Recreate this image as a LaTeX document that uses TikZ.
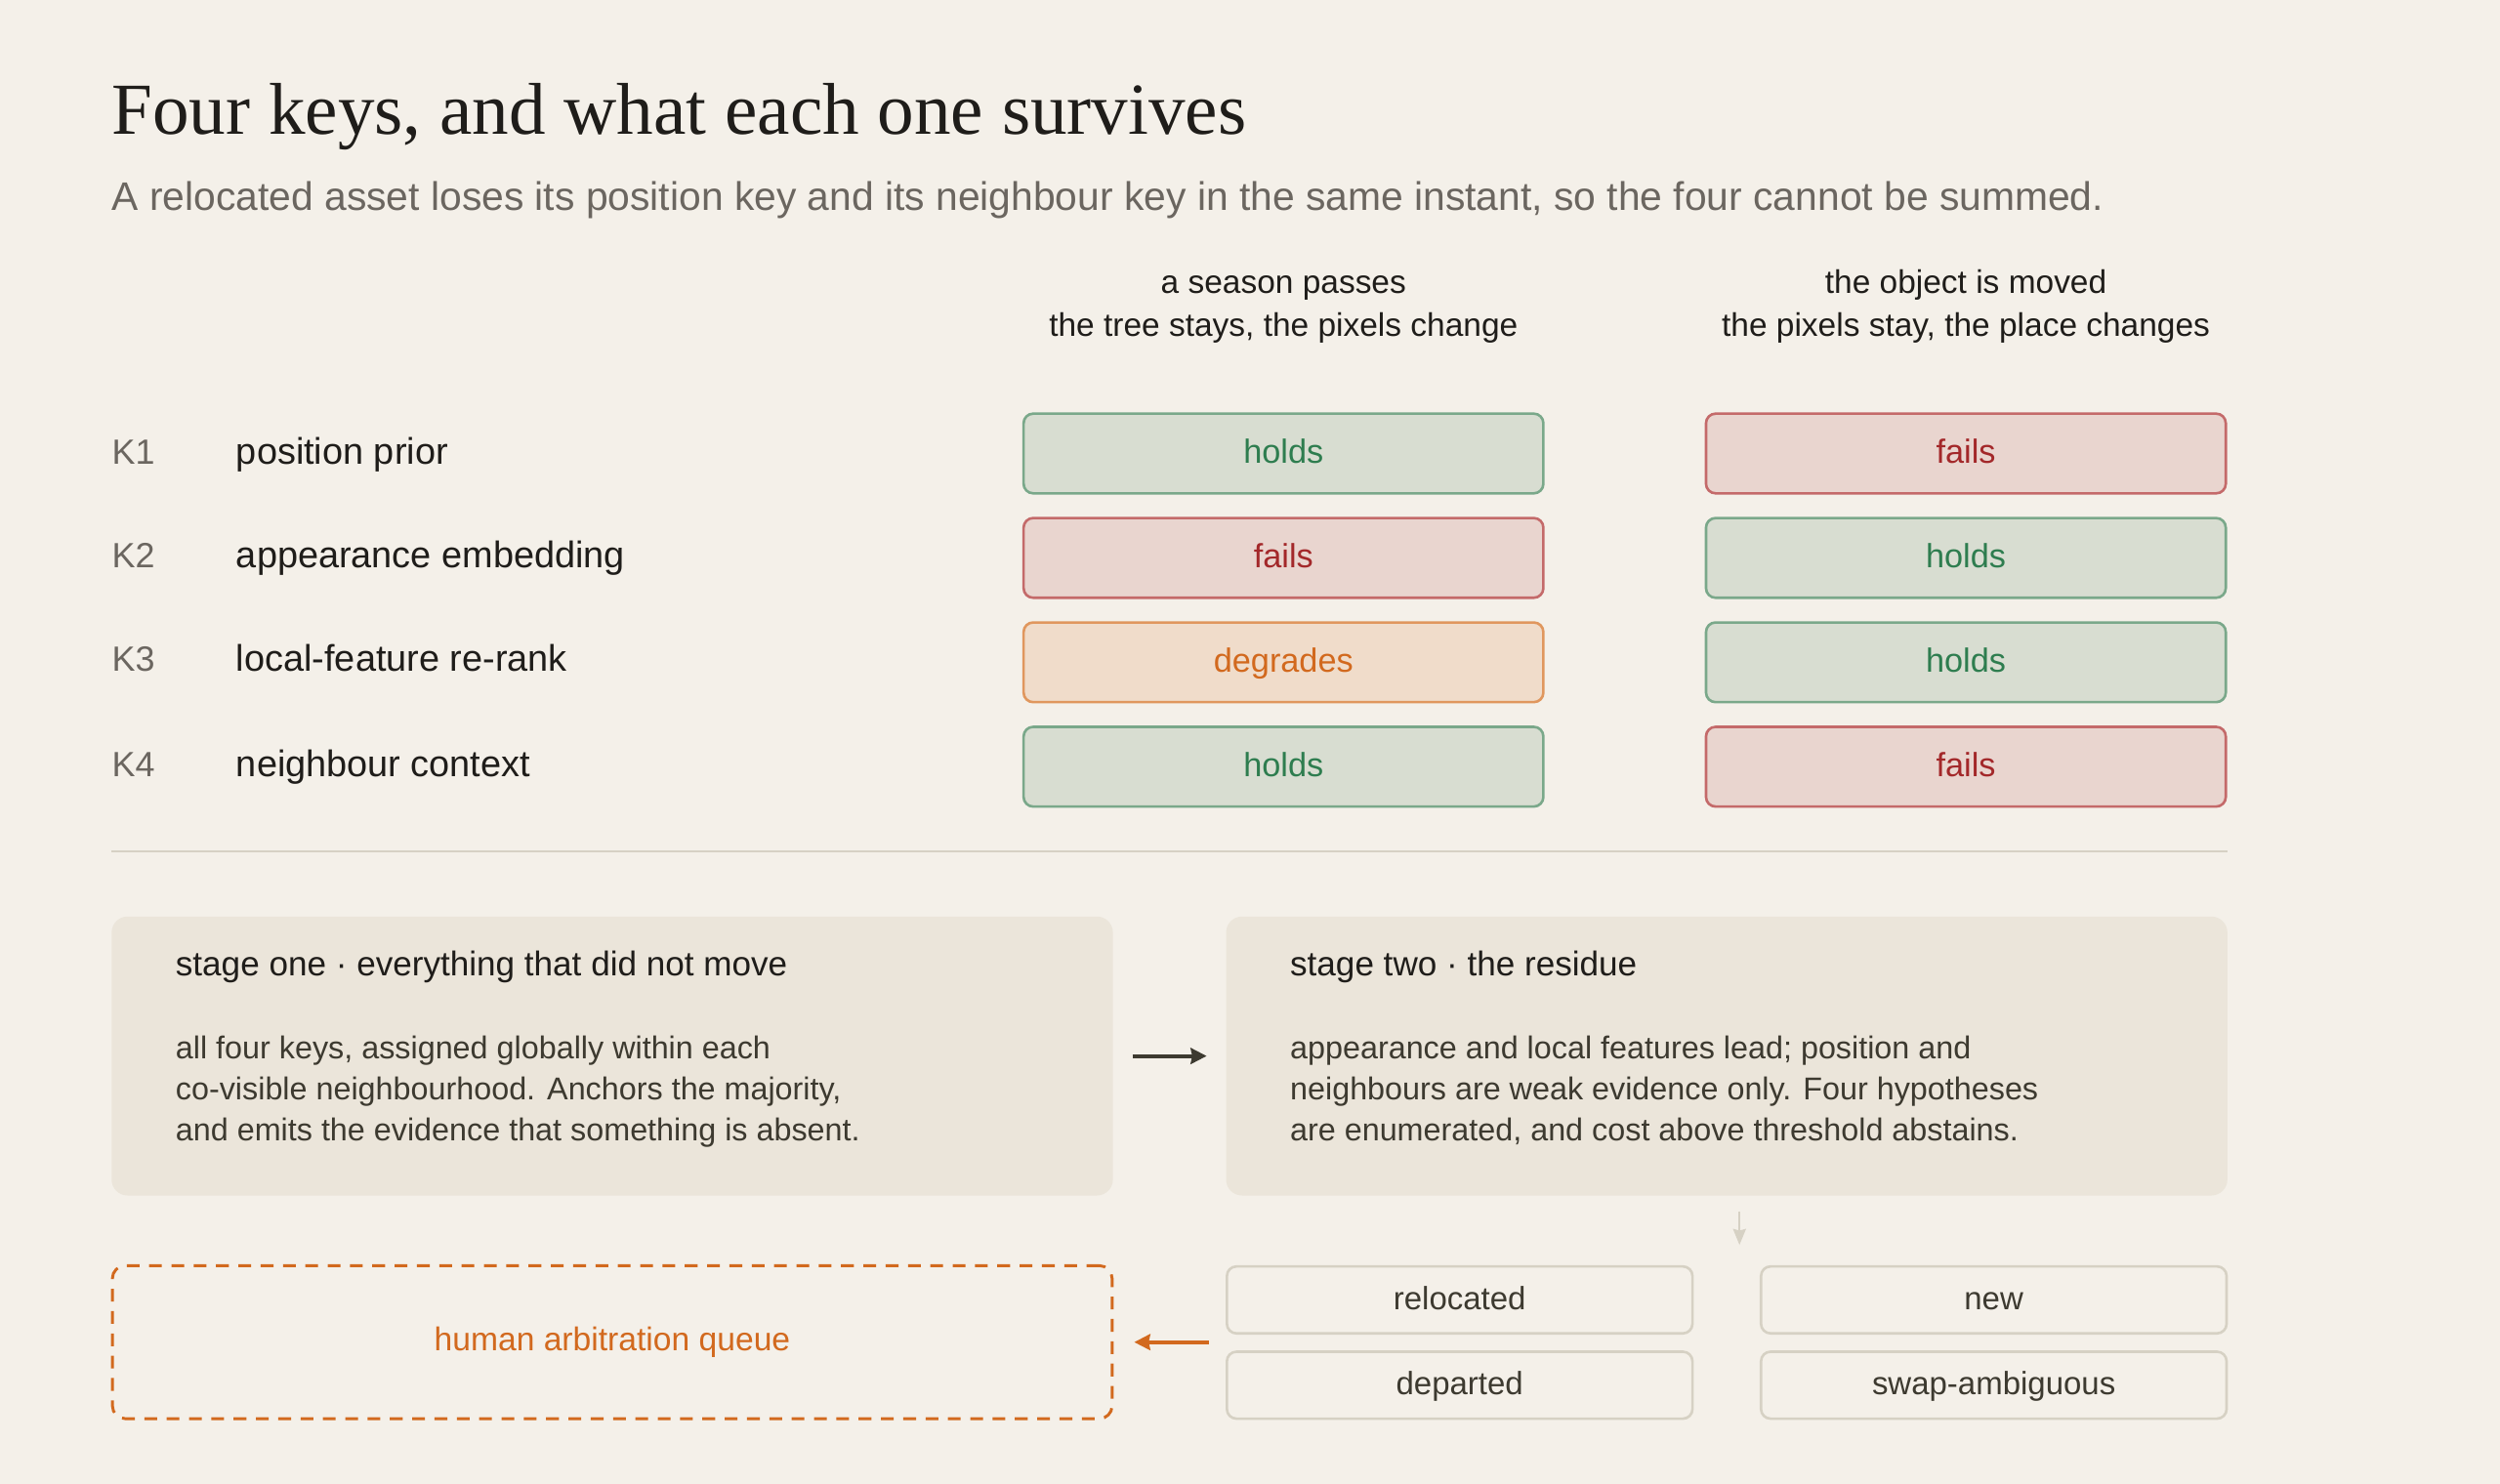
\documentclass[tikz,border=0pt]{standalone}
\usepackage{fontspec}
\setmainfont{Liberation Sans}
\newfontfamily\titlefont{Liberation Serif}
\usetikzlibrary{arrows.meta}
\definecolor{bg}{HTML}{F4F0E9}
\definecolor{ink}{HTML}{1F1D1A}
\definecolor{body}{HTML}{3D3A30}
\definecolor{muted}{HTML}{6B6660}
\definecolor{gfill}{HTML}{D8DDD1}
\definecolor{gline}{HTML}{7AA88A}
\definecolor{gtext}{HTML}{2E7D4F}
\definecolor{rfill}{HTML}{E9D5CF}
\definecolor{rline}{HTML}{C46A6A}
\definecolor{rtext}{HTML}{A3282A}
\definecolor{ofill}{HTML}{F0DCCA}
\definecolor{oline}{HTML}{E0975E}
\definecolor{otext}{HTML}{D2691E}
\definecolor{stagefill}{HTML}{EBE5DA}
\definecolor{rule}{HTML}{D6D1C4}
\tikzset{
  x=1pt, y=-1pt,
  cell/.style={draw, line width=1.6pt, rounded corners=6pt, minimum width=326pt, minimum height=50pt, font=\fontsize{21}{24}\selectfont, inner sep=0pt, text height=16pt, text depth=3.5pt},
  holdscell/.style={cell, fill=gfill, draw=gline, text=gtext},
  failscell/.style={cell, fill=rfill, draw=rline, text=rtext},
  degcell/.style={cell, fill=ofill, draw=oline, text=otext},
  keylab/.style={anchor=base west, text=muted, font=\fontsize{22}{24}\selectfont, inner sep=0pt},
  keyname/.style={anchor=base west, text=ink, font=\fontsize{23.2}{24}\selectfont, inner sep=0pt},
  colhead/.style={anchor=base, text=ink, font=\fontsize{20.5}{24}\selectfont, inner sep=0pt},
  stagebox/.style={fill=stagefill, rounded corners=10pt, minimum width=628pt, minimum height=175pt, inner sep=0pt},
  stagetitle/.style={anchor=base west, text=ink, font=\fontsize{21.5}{24}\selectfont, inner sep=0pt},
  stagebody/.style={anchor=north west, align=left, text=body, font=\fontsize{19.8}{25.5}\selectfont, inner sep=0pt},
  outbox/.style={draw=rule, line width=1.6pt, rounded corners=6pt, minimum width=292pt, minimum height=42pt, text=body, font=\fontsize{20.2}{22}\selectfont, inner sep=0pt, text height=15.5pt, text depth=3.5pt},
}
\begin{document}
\begin{tikzpicture}
\fill[bg] (0,0) rectangle (1568,931);
\useasboundingbox (0,0) rectangle (1568,931);

\node[anchor=base west, inner sep=0pt, text=ink, font=\titlefont\fontsize{46}{50}\selectfont] (title) at (70,84) {Four keys, and what each one survives};
\node[anchor=base west, inner sep=0pt, text=muted, font=\fontsize{25}{28}\selectfont] (sub) at (70,132) {A relocated asset loses its position key and its neighbour key in the same instant, so the four cannot be summed.};

\node[colhead] (h1a) at (805,184) {a season passes};
\node[colhead] (h1b) at (805,211) {the tree stays, the pixels change};
\node[colhead] (h2a) at (1233,184) {the object is moved};
\node[colhead] (h2b) at (1233,211) {the pixels stay, the place changes};

% rows
\node[keylab] (k1) at (70,291) {K1};
\node[keyname] (n1) at (148,291) {position prior};
\node[keylab] (k2) at (70,356) {K2};
\node[keyname] (n2) at (148,356) {appearance embedding};
\node[keylab] (k3) at (70,421) {K3};
\node[keyname] (n3) at (148,421) {local-feature re-rank};
\node[keylab] (k4) at (70,487) {K4};
\node[keyname] (n4) at (148,487) {neighbour context};

\node[holdscell] (a1) at (805,284.5) {holds};
\node[failscell] (b1) at (1233,284.5) {fails};
\node[failscell] (a2) at (805,350) {fails};
\node[holdscell] (b2) at (1233,350) {holds};
\node[degcell] (a3) at (805,415.5) {degrades};
\node[holdscell] (b3) at (1233,415.5) {holds};
\node[holdscell] (a4) at (805,481) {holds};
\node[failscell] (b4) at (1233,481) {fails};

\coordinate (rl) at (70,534);
\coordinate (rr) at (1397,534);
\draw[rule, line width=1.6pt] (rl) -- (rr);

% stages
\node[stagebox] (s1) at (384,662.5) {};
\node[stagebox] (s2) at (1083,662.5) {};
\node[stagetitle] (s1t) at (110,612) {stage one · everything that did not move};
\node[stagebody] (s1b) at (110,650) {all four keys, assigned globally within each\\co-visible neighbourhood. Anchors the majority,\\and emits the evidence that something is absent.};
\node[stagetitle] (s2t) at (809,612) {stage two · the residue};
\node[stagebody] (s2b) at (809,650) {appearance and local features lead; position and\\neighbours are weak evidence only. Four hypotheses\\are enumerated, and cost above threshold abstains.};

\draw[body, line width=2.4pt, -{Stealth[length=10pt,width=10pt,inset=1pt]}] ([xshift=12pt]s1.east) -- ([xshift=-12pt]s2.west);

% outcomes
\node[outbox] (o1) at (915.5,815.5) {relocated};
\node[outbox] (o2) at (1250.5,815.5) {new};
\node[outbox] (o3) at (915.5,869) {departed};
\node[outbox] (o4) at (1250.5,869) {swap-ambiguous};
\coordinate (dtop) at (1091,760);
\coordinate (dbot) at (1091,781);
\draw[rule, line width=1.5pt, -{Stealth[length=10pt,width=8pt,inset=1pt]}] (dtop) -- (dbot);

\node[draw=otext, dash pattern=on 8pt off 6pt, line width=1.8pt, rounded corners=8pt, minimum width=627pt, minimum height=96pt, text=otext, font=\fontsize{20.6}{22}\selectfont, inner sep=0pt] (q) at (384,842) {human arbitration queue};
\coordinate (qa) at (758,842);
\draw[otext, line width=2.4pt, -{Stealth[length=10pt,width=10pt,inset=1pt]}] (qa) -- ([xshift=13pt]q.east);
\end{tikzpicture}
\end{document}
